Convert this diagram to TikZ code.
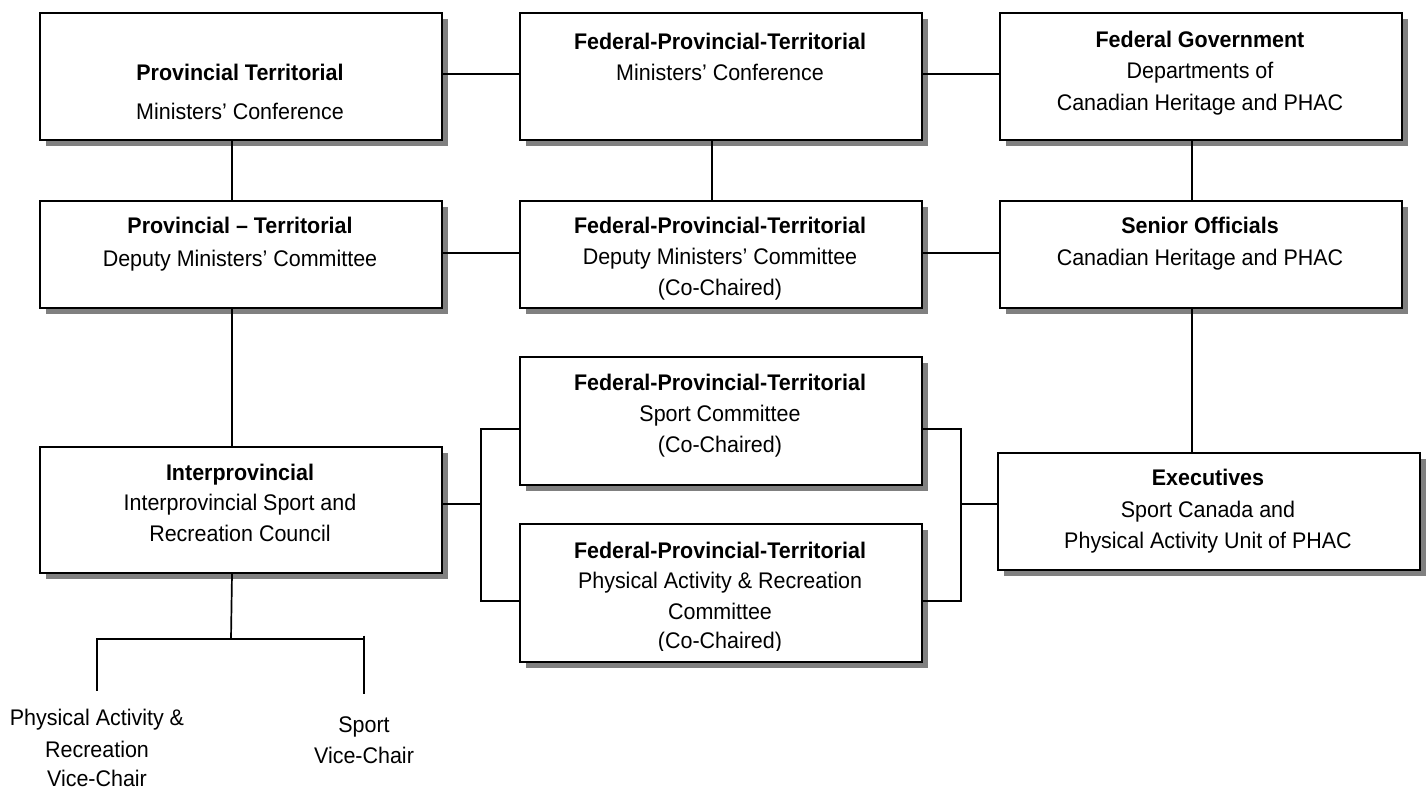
\documentclass[tikz,border=0pt]{standalone}
\usepackage{fontspec}
\setmainfont{Liberation Sans}[FakeStretch=0.95]
\usetikzlibrary{shadows}
\definecolor{shadowgray}{RGB}{128,128,128}
\tikzset{
  box/.style={draw, line width=2pt, fill=white, inner sep=0pt, anchor=north west,
    drop shadow={opacity=1, fill=shadowgray, shadow xshift=6pt, shadow yshift=-6pt}},
  txt/.style={align=center, anchor=north, inner sep=0pt, font=\fontsize{22.6}{31}\selectfont},
  conn/.style={line width=1.7pt},
}
\newcommand{\fst}{\rule{0pt}{18pt}}
\begin{document}
\begin{tikzpicture}[x=1pt,y=-1pt]
\useasboundingbox (0,0) rectangle (1426,789);
% boxes
\node[box, minimum width=402pt, minimum height=127pt] (b1) at (39,12) {};
\node[box, minimum width=402pt, minimum height=107pt] (b2) at (39,200) {};
\node[box, minimum width=402pt, minimum height=126pt] (b3) at (39,446) {};
\node[box, minimum width=402pt, minimum height=127pt] (m1) at (519,12) {};
\node[box, minimum width=402pt, minimum height=107pt] (m2) at (519,200) {};
\node[box, minimum width=402pt, minimum height=128pt] (m3) at (519,356) {};
\node[box, minimum width=402pt, minimum height=138pt] (m4) at (519,523) {};
\node[box, minimum width=402pt, minimum height=127pt] (r1) at (999,12) {};
\node[box, minimum width=402pt, minimum height=107pt] (r2) at (999,200) {};
\node[box, minimum width=422pt, minimum height=117pt] (r3) at (997,452) {};
% texts
\node[txt] (b1t) at (240,62) {\fst\textbf{Provincial Territorial}\\[8.3pt]Ministers’ Conference};
\node[txt] (b2t) at (240,215.3) {\fst\textbf{Provincial – Territorial}\\[2pt]Deputy Ministers’ Committee};
\node[txt] (b3t) at (240,462) {\fst\textbf{Interprovincial}\\[-0.5pt]Interprovincial Sport and\\[-0.5pt]Recreation Council};
\node[txt] (m1t) at (720,31.3) {\fst\textbf{Federal-Provincial-Territorial}\\Ministers’ Conference};
\node[txt] (m2t) at (720,215.3) {\fst\textbf{Federal-Provincial-Territorial}\\Deputy Ministers’ Committee\\(Co-Chaired)};
\node[txt] (m3t) at (720,372) {\fst\textbf{Federal-Provincial-Territorial}\\Sport Committee\\(Co-Chaired)};
\begin{scope}
\clip (519,523) rectangle (921,650);
\node[txt] (m4t) at (720,540.3) {\fst\textbf{Federal-Provincial-Territorial}\\[-1pt]Physical Activity \& Recreation\\Committee\\[-2pt](Co-Chaired)};
\end{scope}
\node[txt] (r1t) at (1200,29.7) {\fst\textbf{Federal Government}\\Departments of\\[1pt]Canadian Heritage and PHAC};
\node[txt] (r2t) at (1200,215.3) {\fst\textbf{Senior Officials}\\[1pt]Canadian Heritage and PHAC};
\node[txt] (r3t) at (1208,467) {\fst\textbf{Executives}\\[1pt]Sport Canada and\\Physical Activity Unit of PHAC};
\node[txt] (l1) at (97,707.7) {\fst Physical Activity \&\\[1pt]Recreation\\[-2pt]Vice-Chair};
\node[txt] (l2) at (364,714.7) {\fst Sport\\Vice-Chair};
% connectors
\draw[conn] ([yshift=2.2pt]b1.east) -- ([yshift=2.2pt]m1.west);
\draw[conn] ([yshift=2.2pt]m1.east) -- ([yshift=2.2pt]r1.west);
\draw[conn] ([yshift=1.8pt]b2.east) -- ([yshift=1.8pt]m2.west);
\draw[conn] ([yshift=1.8pt]m2.east) -- ([yshift=1.8pt]r2.west);
\draw[conn] ([xshift=-9pt]b1.south) -- ([xshift=-9pt]b2.north);
\draw[conn] ([xshift=-9pt]m1.south) -- ([xshift=-9pt]m2.north);
\draw[conn] ([xshift=-9pt]r1.south) -- ([xshift=-9pt]r2.north);
\draw[conn] ([xshift=-9pt]b2.south) -- ([xshift=-9pt]b3.north);
\draw[conn] ([xshift=-9pt]r2.south) -- ([xshift=-9pt]r2.south |- r3.north);
\coordinate (jl) at (481,504);
\coordinate (jr) at (961,504);
\draw[conn] (b3.east |- jl) -- (jl);
\draw[conn] ([yshift=-8pt]m3.west) -| (jl) |- ([yshift=-8pt]m4.west);
\draw[conn] ([yshift=-8pt]m3.east) -| (jr) |- ([yshift=-8pt]m4.east);
\draw[conn] (jr) -- (jr -| r3.west);
\coordinate (fork) at (231,639);
\draw[conn] ([xshift=-9pt]b3.south) -- (fork);
\draw[conn] ([yshift=17pt]l1.north) |- (l2.north |- fork);
\draw[conn] ([yshift=3.5pt]l2.north |- fork) -- ([yshift=20.5pt]l2.north);
\end{tikzpicture}
\end{document}
